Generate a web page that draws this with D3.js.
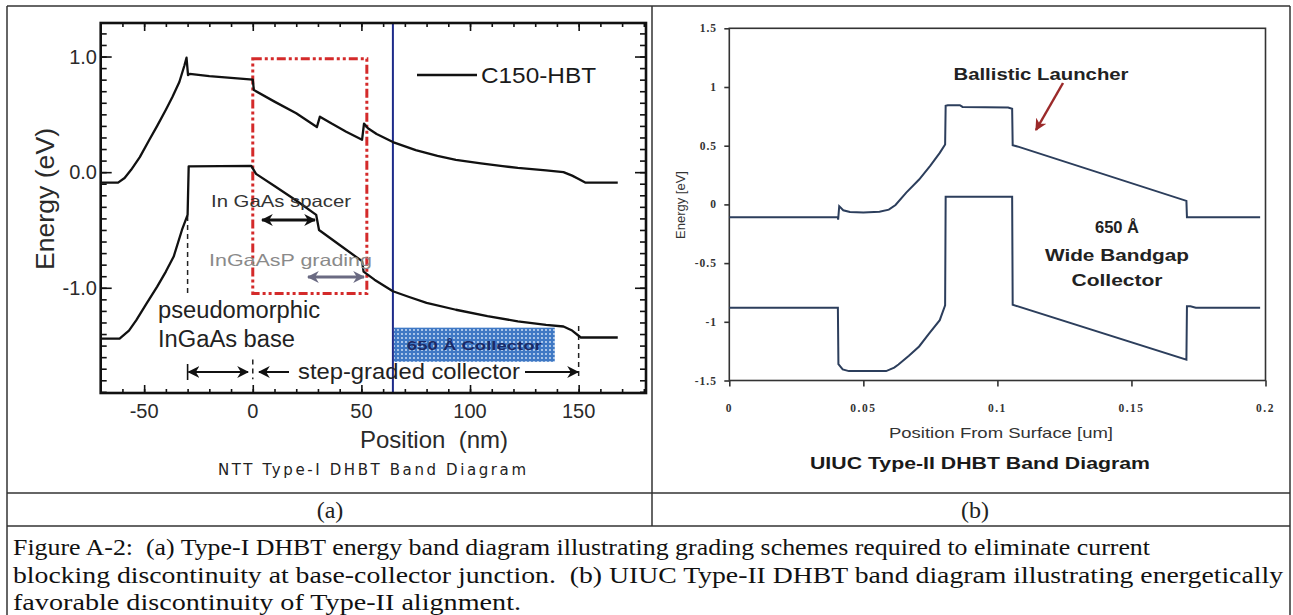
<!DOCTYPE html>
<html><head><meta charset="utf-8">
<script src="https://cdn.jsdelivr.net/npm/d3@7"></script>
<style>body{margin:0;background:#fff}svg{display:block}</style>
</head><body>
<script>
// ---------- DATA ----------
// Left panel (NTT Type-I): position (nm), energy (eV)
const cbLeftPos = [-70,-62,-59,-56,-52,-47.6,-44,-40,-37,-33.8,-31.5,-30.5,-29.8,-29,-20,-10,0,0.5,10,20,29.5,30.9,36.3,43,50.3,51.2,53,57,64.5,75,85,93.5,105,115,122,135,143,147,150,153,168];
const cbLeftE   = [-0.09,-0.09,-0.05,0.02,0.13,0.28,0.40,0.54,0.65,0.78,0.92,0.99,0.84,0.85,0.83,0.815,0.80,0.71,0.61,0.51,0.39,0.48,0.42,0.35,0.28,0.42,0.38,0.33,0.26,0.19,0.14,0.106,0.075,0.052,0.037,0.015,0.0,-0.03,-0.06,-0.09,-0.09];
const vbLeftPos = [-70,-61.3,-57,-53.6,-49,-44,-40,-36.4,-32.6,-30,-29.5,-0.7,1.5,10,20,29.2,30.5,40,50.3,51,56,64.5,72,80,93.5,108,122,135,143,147,151,168];
const vbLeftE   = [-1.44,-1.44,-1.37,-1.28,-1.14,-0.99,-0.86,-0.73,-0.5,-0.37,0.05,0.055,-0.015,-0.12,-0.245,-0.37,-0.50,-0.63,-0.77,-0.86,-0.93,-1.03,-1.08,-1.13,-1.19,-1.245,-1.29,-1.32,-1.335,-1.37,-1.43,-1.43];
const leftXTicks = [-50,0,50,100,150];
const leftYTicks = [-1.0,0.0,1.0];
const leftXLabels = ["-50","0","50","100","150"];
const leftYLabels = ["-1.0","0.0","1.0"];
const blueLinePos = 64.5;
const redBox = {x0:0, x1:52.5, e0:-1.05, e1:0.98};

// Right panel (UIUC Type-II): position (um), energy (eV)
const cbRightPos = [0,0.0405,0.0406,0.041,0.0425,0.045,0.05,0.056,0.0595,0.062,0.066,0.0708,0.075,0.0785,0.0805,0.0807,0.0815,0.086,0.087,0.104,0.1055,0.1057,0.108,0.1705,0.1707,0.198];
const cbRightE   = [-0.11,-0.11,-0.13,-0.015,-0.05,-0.065,-0.068,-0.062,-0.045,-0.005,0.10,0.212,0.33,0.439,0.51,0.84,0.845,0.845,0.83,0.826,0.815,0.504,0.49,0.03,-0.11,-0.11];
const vbRightPos = [0,0.0405,0.0407,0.0423,0.0446,0.0585,0.0615,0.0631,0.067,0.0708,0.0745,0.0785,0.0805,0.0807,0.1055,0.1057,0.1705,0.1707,0.172,0.174,0.198];
const vbRightE   = [-0.88,-0.88,-1.36,-1.405,-1.42,-1.42,-1.39,-1.364,-1.29,-1.21,-1.10,-0.986,-0.86,0.065,0.065,-0.855,-1.322,-0.868,-0.868,-0.88,-0.88];
const rightXTicks = [0,0.05,0.1,0.15,0.2];
const rightXLabels = ["0","0.05","0.1","0.15","0.2"];
const rightYTicks = [1.5,1,0.5,0,-0.5,-1,-1.5];
const rightYLabels = ["1.5","1","0.5","0","-0.5","-1","-1.5"];

const captionLines = [
 "Figure A-2:  (a) Type-I DHBT energy band diagram illustrating grading schemes required to eliminate current",
 "blocking discontinuity at base-collector junction.  (b) UIUC Type-II DHBT band diagram illustrating energetically",
 "favorable discontinuity of Type-II alignment."
];

// ---------- DRAW ----------
const W=1293,H=615;
const svg=d3.select("body").append("svg").attr("width",W).attr("height",H);
svg.append("rect").attr("width",W).attr("height",H).attr("fill","#fff");
const defs=svg.append("defs");
const pat=defs.append("pattern").attr("id","dots").attr("width",4).attr("height",4).attr("patternUnits","userSpaceOnUse");
pat.append("rect").attr("width",4).attr("height",4).attr("fill","#3f78c4");
pat.append("circle").attr("cx",2).attr("cy",2).attr("r",0.9).attr("fill","#dbe8fa");
function marker(id,color,size){
  const m=defs.append("marker").attr("id",id).attr("viewBox","0 0 10 10").attr("refX",9).attr("refY",5)
   .attr("markerWidth",size).attr("markerHeight",size).attr("orient","auto-start-reverse").attr("markerUnits","userSpaceOnUse");
  m.append("path").attr("d","M0,0 L10,5 L0,10 L3,5 Z").attr("fill",color);
}
marker("ak","#111",12); marker("ag","#6a6a82",12); marker("ar","#9b2a2a",12);

// table frame
const fr=svg.append("g").attr("stroke","#333").attr("stroke-width",1.5).attr("fill","none");
fr.append("line").attr("x1",7).attr("x2",1290).attr("y1",6).attr("y2",6);
fr.append("line").attr("x1",7).attr("x2",7).attr("y1",6).attr("y2",615);
fr.append("line").attr("x1",1290).attr("x2",1290).attr("y1",6).attr("y2",615);
fr.append("line").attr("x1",652).attr("x2",652).attr("y1",6).attr("y2",526);
fr.append("line").attr("x1",7).attr("x2",1290).attr("y1",493).attr("y2",493);
fr.append("line").attr("x1",7).attr("x2",1290).attr("y1",526).attr("y2",526);

// ===== Left panel =====
const xL=d3.scaleLinear().domain([-70,181]).range([100.7,646]);
const yL=d3.scaleLinear().domain([-1.91,1.29]).range([393,23]);
const gL=svg.append("g");
const sansL="'Liberation Sans', Arial, sans-serif";

// red dash-dot box
gL.append("rect").attr("x",xL(redBox.x0)).attr("y",yL(redBox.e1))
  .attr("width",xL(redBox.x1)-xL(redBox.x0)).attr("height",yL(redBox.e0)-yL(redBox.e1))
  .attr("fill","none").attr("stroke","#d42a2a").attr("stroke-width",3).attr("stroke-dasharray","9,3,3,3,3,3");

// collector dotted box
gL.append("rect").attr("x",xL(65)).attr("y",yL(-1.345)).attr("width",xL(139)-xL(65)).attr("height",yL(-1.64)-yL(-1.345))
  .attr("fill","url(#dots)");
gL.append("text").attr("x",(xL(65)+xL(139))/2).attr("y",yL(-1.535)).attr("text-anchor","middle")
  .attr("font-family",sansL).attr("font-size",13).attr("font-weight","bold").attr("fill","#1b2a66")
  .attr("textLength",135).attr("lengthAdjust","spacingAndGlyphs").text("650 Å Collector");

// blue line
gL.append("line").attr("x1",xL(blueLinePos)).attr("x2",xL(blueLinePos)).attr("y1",yL(1.29)).attr("y2",yL(-1.91))
  .attr("stroke","#1d2b8a").attr("stroke-width",2);

// dashed verticals
const dash=gL.append("g").attr("stroke","#222").attr("stroke-width",1.5).attr("stroke-dasharray","5,4");
dash.append("line").attr("x1",xL(-30)).attr("x2",xL(-30)).attr("y1",yL(-0.38)).attr("y2",yL(-1.07));
dash.append("line").attr("x1",xL(0)).attr("x2",xL(0)).attr("y1",yL(-1.62)).attr("y2",yL(-1.79));
dash.append("line").attr("x1",xL(150)).attr("x2",xL(150)).attr("y1",yL(-1.33)).attr("y2",yL(-1.79));

// curves
const lineL=d3.line().x(d=>xL(d[0])).y(d=>yL(d[1]));
gL.append("path").datum(cbLeftPos.map((p,i)=>[p,cbLeftE[i]])).attr("d",lineL).attr("fill","none").attr("stroke","#111").attr("stroke-width",2.3).attr("stroke-linejoin","round");
gL.append("path").datum(vbLeftPos.map((p,i)=>[p,vbLeftE[i]])).attr("d",lineL).attr("fill","none").attr("stroke","#111").attr("stroke-width",2.3).attr("stroke-linejoin","round");

// axes frame with inward ticks
const axBottom=d3.axisBottom(xL).tickValues(d3.range(-60,181,10)).tickSize(-4).tickFormat("");
const axTop=d3.axisTop(xL).tickValues(d3.range(-60,181,10)).tickSize(-4).tickFormat("");
const axLeft=d3.axisLeft(yL).tickValues(d3.range(-19,13).map(v=>v/10)).tickSize(-6).tickFormat("");
const axRight=d3.axisRight(yL).tickValues(d3.range(-19,13).map(v=>v/10)).tickSize(-6).tickFormat("");
function styleAx(g){g.select(".domain").remove();g.selectAll("line").attr("stroke","#111").attr("stroke-width",1.6);}
gL.append("g").attr("transform",`translate(0,393)`).call(axBottom).call(styleAx);
gL.append("g").attr("transform",`translate(0,23)`).call(axTop).call(styleAx);
gL.append("g").attr("transform",`translate(100.7,0)`).call(axLeft).call(styleAx);
gL.append("g").attr("transform",`translate(646,0)`).call(axRight).call(styleAx);
// major ticks
gL.append("g").attr("transform",`translate(0,393)`).call(d3.axisBottom(xL).tickValues(leftXTicks).tickSize(-8).tickFormat("")).call(styleAx);
gL.append("g").attr("transform",`translate(0,23)`).call(d3.axisTop(xL).tickValues(leftXTicks).tickSize(-8).tickFormat("")).call(styleAx);
gL.append("g").attr("transform",`translate(100.7,0)`).call(d3.axisLeft(yL).tickValues(leftYTicks).tickSize(-11).tickFormat("")).call(styleAx);
gL.append("g").attr("transform",`translate(646,0)`).call(d3.axisRight(yL).tickValues(leftYTicks).tickSize(-11).tickFormat("")).call(styleAx);
gL.append("rect").attr("x",100.7).attr("y",23).attr("width",646-100.7).attr("height",393-23).attr("fill","none").attr("stroke","#111").attr("stroke-width",2.6);

// tick labels
gL.selectAll(".xl").data(leftXTicks).enter().append("text").attr("x",d=>xL(d)).attr("y",418).attr("text-anchor","middle")
  .attr("font-family",sansL).attr("font-size",20).attr("fill","#2a2a2a").text((d,i)=>leftXLabels[i]);
gL.selectAll(".yl").data(leftYTicks).enter().append("text").attr("x",97).attr("y",d=>yL(d)+7).attr("text-anchor","end")
  .attr("font-family",sansL).attr("font-size",20).attr("fill","#2a2a2a").text((d,i)=>leftYLabels[i]);

// axis titles
gL.append("text").attr("transform","translate(54,199) rotate(-90)").attr("text-anchor","middle")
  .attr("font-family",sansL).attr("font-size",25).attr("fill","#2a2a2a")
  .attr("textLength",142).attr("lengthAdjust","spacingAndGlyphs").text("Energy (eV)");
gL.append("text").attr("x",434).attr("y",448).attr("text-anchor","middle").style("white-space","pre")
  .attr("font-family",sansL).attr("font-size",24).attr("fill","#2a2a2a").text("Position  (nm)");
gL.append("text").attr("x",372).attr("y",475).attr("text-anchor","middle")
  .attr("font-family","'DejaVu Sans', sans-serif").attr("font-size",15).attr("fill","#222")
  .attr("textLength",308).attr("lengthAdjust","spacing").text("NTT Type-I DHBT Band Diagram");

// legend
gL.append("line").attr("x1",417).attr("x2",477).attr("y1",75).attr("y2",75).attr("stroke","#111").attr("stroke-width",2.3);
gL.append("text").attr("x",481).attr("y",83).attr("font-family",sansL).attr("font-size",22).attr("fill","#1a1a1a")
  .attr("textLength",115).attr("lengthAdjust","spacingAndGlyphs").text("C150-HBT");

// annotations
gL.append("text").attr("x",211).attr("y",207).attr("font-family",sansL).attr("font-size",16.5).attr("fill","#333")
  .attr("textLength",140).attr("lengthAdjust","spacingAndGlyphs").text("In GaAs spacer");
gL.append("line").attr("x1",262).attr("x2",315).attr("y1",220).attr("y2",220).attr("stroke","#111").attr("stroke-width",3)
  .attr("marker-start","url(#ak)").attr("marker-end","url(#ak)");
gL.append("text").attr("x",209).attr("y",266).attr("font-family",sansL).attr("font-size",16.5).attr("fill","#8a8a8a")
  .attr("textLength",163).attr("lengthAdjust","spacingAndGlyphs").text("InGaAsP grading");
gL.append("line").attr("x1",308).attr("x2",364).attr("y1",277).attr("y2",277).attr("stroke","#6a6a82").attr("stroke-width",3)
  .attr("marker-start","url(#ag)").attr("marker-end","url(#ag)");
gL.append("text").attr("x",158).attr("y",318).attr("font-family",sansL).attr("font-size",23).attr("fill","#222")
  .attr("textLength",162).attr("lengthAdjust","spacingAndGlyphs").text("pseudomorphic");
gL.append("text").attr("x",158).attr("y",347).attr("font-family",sansL).attr("font-size",23).attr("fill","#222")
  .attr("textLength",137).attr("lengthAdjust","spacingAndGlyphs").text("InGaAs base");
// bracket arrows
const ay=372;
gL.append("line").attr("x1",xL(-30)).attr("x2",xL(-30)).attr("y1",ay-8).attr("y2",ay+8).attr("stroke","#111").attr("stroke-width",1.6);
gL.append("line").attr("x1",xL(-30)+1).attr("x2",248).attr("y1",ay).attr("y2",ay).attr("stroke","#111").attr("stroke-width",2)
  .attr("marker-start","url(#ak)").attr("marker-end","url(#ak)");
gL.append("line").attr("x1",289).attr("x2",259).attr("y1",ay).attr("y2",ay).attr("stroke","#111").attr("stroke-width",2).attr("marker-end","url(#ak)");
gL.append("line").attr("x1",525).attr("x2",578).attr("y1",ay).attr("y2",ay).attr("stroke","#111").attr("stroke-width",2).attr("marker-end","url(#ak)");
gL.append("text").attr("x",298).attr("y",379).attr("font-family",sansL).attr("font-size",22).attr("fill","#222")
  .attr("textLength",222).attr("lengthAdjust","spacingAndGlyphs").text("step-graded collector");

// ===== Right panel =====
const xR=d3.scaleLinear().domain([0,0.2]).range([729.3,1265.5]);
const yR=d3.scaleLinear().domain([-1.5,1.5]).range([380.5,28.3]);
const gR=svg.append("g");
const narrow="'Liberation Sans Narrow','Liberation Sans',Arial,sans-serif";
const serifB="'Liberation Serif','Times New Roman',serif";
const lineR=d3.line().x(d=>xR(d[0])).y(d=>yR(d[1]));
gR.append("rect").attr("x",xR(0)).attr("y",yR(1.5)).attr("width",xR(0.2)-xR(0)).attr("height",yR(-1.5)-yR(1.5))
  .attr("fill","none").attr("stroke","#333").attr("stroke-width",1.6);
gR.append("g").attr("transform",`translate(${xR(0)},0)`).call(d3.axisLeft(yR).tickValues(rightYTicks).tickSize(5).tickFormat(""))
  .call(g=>{g.select(".domain").remove();g.selectAll("line").attr("stroke","#333").attr("stroke-width",1.6);});
gR.append("g").attr("transform",`translate(0,${yR(-1.5)})`).call(d3.axisBottom(xR).tickValues(rightXTicks).tickSize(6).tickFormat(""))
  .call(g=>{g.select(".domain").remove();g.selectAll("line").attr("stroke","#333").attr("stroke-width",1.6);});
gR.append("path").datum(cbRightPos.map((p,i)=>[p,cbRightE[i]])).attr("d",lineR).attr("fill","none").attr("stroke","#2c3e5c").attr("stroke-width",2);
gR.append("path").datum(vbRightPos.map((p,i)=>[p,vbRightE[i]])).attr("d",lineR).attr("fill","none").attr("stroke","#2c3e5c").attr("stroke-width",2);

gR.selectAll(".ryl").data(rightYTicks).enter().append("text").attr("x",717).attr("y",d=>yR(d)+4).attr("text-anchor","end")
  .attr("font-family",serifB).attr("font-weight","bold").attr("font-size",11.5).attr("fill","#333").attr("letter-spacing",1)
  .text((d,i)=>rightYLabels[i]);
gR.selectAll(".rxl").data(rightXTicks).enter().append("text").attr("x",d=>xR(d)).attr("y",412).attr("text-anchor","middle")
  .attr("font-family",serifB).attr("font-weight","bold").attr("font-size",11.5).attr("fill","#333").attr("letter-spacing",1.5)
  .text((d,i)=>rightXLabels[i]);
gR.append("text").attr("transform","translate(685,205) rotate(-90)").attr("text-anchor","middle")
  .attr("font-family",narrow).attr("font-size",13).attr("fill","#333").text("Energy [eV]");
gR.append("text").attr("x",1001).attr("y",438).attr("text-anchor","middle").attr("font-family",narrow).attr("font-size",14.5).attr("fill","#333")
  .attr("textLength",224).attr("lengthAdjust","spacingAndGlyphs").text("Position From Surface [um]");
gR.append("text").attr("x",980).attr("y",469).attr("text-anchor","middle").attr("font-family",narrow).attr("font-weight","bold").attr("font-size",17).attr("fill","#1a1a1a")
  .attr("textLength",340).attr("lengthAdjust","spacingAndGlyphs").text("UIUC Type-II DHBT Band Diagram");
gR.append("text").attr("x",1041).attr("y",80).attr("text-anchor","middle").attr("font-family",narrow).attr("font-weight","bold").attr("font-size",16).attr("fill","#222")
  .attr("textLength",175).attr("lengthAdjust","spacingAndGlyphs").text("Ballistic Launcher");
gR.append("line").attr("x1",1063).attr("y1",83).attr("x2",1036).attr("y2",130).attr("stroke","#9b2a2a").attr("stroke-width",2.5).attr("marker-end","url(#ar)");
gR.append("text").attr("x",1117).attr("y",233).attr("text-anchor","middle").attr("font-family",narrow).attr("font-weight","bold").attr("font-size",16.5).attr("fill","#222").text("650 Å");
gR.append("text").attr("x",1117).attr("y",261).attr("text-anchor","middle").attr("font-family",narrow).attr("font-weight","bold").attr("font-size",16.5).attr("fill","#222")
  .attr("textLength",144).attr("lengthAdjust","spacingAndGlyphs").text("Wide Bandgap");
gR.append("text").attr("x",1117).attr("y",286).attr("text-anchor","middle").attr("font-family",narrow).attr("font-weight","bold").attr("font-size",16.5).attr("fill","#222")
  .attr("textLength",91).attr("lengthAdjust","spacingAndGlyphs").text("Collector");

// ===== Labels row & caption =====
const serif="'Liberation Serif','Times New Roman',serif";
svg.append("text").attr("x",330).attr("y",518).attr("text-anchor","middle").attr("font-family",serif).attr("font-size",24).attr("fill","#222").text("(a)");
svg.append("text").attr("x",975).attr("y",518).attr("text-anchor","middle").attr("font-family",serif).attr("font-size",24).attr("fill","#222").text("(b)");
const capW=[1137,1270,508];
svg.selectAll(".cap").data(captionLines).enter().append("text").attr("x",13).attr("y",(d,i)=>555+i*27.5)
  .attr("font-family",serif).attr("font-size",22.5).attr("fill","#111").style("white-space","pre")
  .attr("textLength",(d,i)=>capW[i]).attr("lengthAdjust","spacingAndGlyphs").text(d=>d);
</script>
</body></html>
